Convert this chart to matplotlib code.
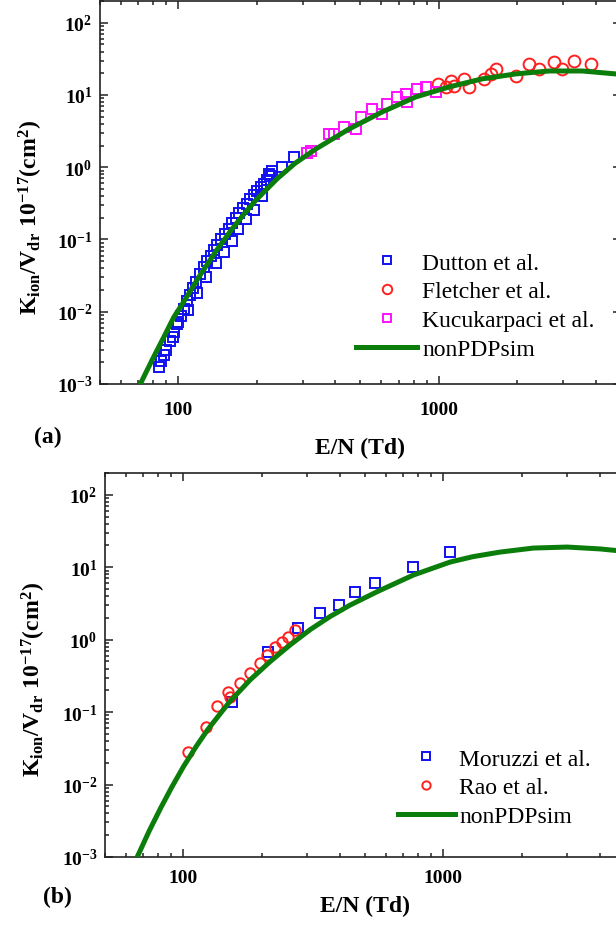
import matplotlib
matplotlib.use('Agg')
import matplotlib.pyplot as plt
from matplotlib.ticker import LogLocator, NullFormatter, FixedLocator, FixedFormatter

plt.rcParams['font.family'] = ['Liberation Serif', 'DejaVu Serif']
plt.rcParams['mathtext.fontset'] = 'custom'
plt.rcParams['mathtext.rm'] = 'Liberation Serif:bold'
plt.rcParams['mathtext.bf'] = 'Liberation Serif:bold'
plt.rcParams['mathtext.it'] = 'Liberation Serif:bold'

# ---------------- data: panel (a) ----------------
sim_a_E = [71.4, 80, 88, 96, 105, 120, 140, 160, 180, 200, 240, 280, 336, 451, 604, 815, 1092, 1463, 1977, 2650, 3548, 4750, 5000]
sim_a_K = [1e-3, 2.3e-3, 4.5e-3, 8.4e-3, 0.0139, 0.0305, 0.0706, 0.137, 0.233, 0.362, 0.70, 1.13, 1.78, 3.37, 5.8, 9.4, 12.9, 16.7, 19.6, 21.5, 21.5, 19.6, 19.2]

dutton_E = [84, 86, 88, 90, 93, 96, 99, 102, 105, 108, 111, 114, 117, 121, 125, 129, 133, 137, 141, 146,
            151, 156, 161, 166, 171, 177, 183, 189, 195, 201, 207, 213, 219, 224, 228, 249, 277,
            95, 100, 109, 118, 128, 139, 150, 160, 170, 182, 195, 210, 222]
dutton_K = [0.0017, 0.0021, 0.0025, 0.0030, 0.0040, 0.0052, 0.0068, 0.0088, 0.011, 0.014, 0.017, 0.021,
            0.026, 0.033, 0.041, 0.050, 0.060, 0.072, 0.085, 0.10, 0.12, 0.14, 0.17, 0.20, 0.23, 0.27,
            0.31, 0.36, 0.41, 0.47, 0.53, 0.59, 0.66, 0.75, 0.9, 1.0, 1.38,
            0.0045, 0.0071, 0.0107, 0.018, 0.030, 0.048, 0.068, 0.095, 0.138, 0.19, 0.26, 0.40, 0.8]

kucuk_E = [312, 322, 378, 394, 431, 479, 501, 553, 604, 631, 689, 745, 752, 823, 892, 974]
kucuk_K = [1.6, 1.67, 2.9, 2.9, 3.6, 3.4, 4.9, 6.4, 5.4, 7.5, 9.4, 10.3, 8.0, 12.1, 12.9, 11.0]

fletcher_E = [989, 1063, 1110, 1143, 1250, 1300, 1492, 1585, 1655, 1977, 2220, 2430, 2770, 2960, 3300, 3850]
fletcher_K = [14.2, 12.9, 15.6, 13.3, 16.7, 12.9, 16.7, 19.6, 23.0, 18.4, 27.0, 23.0, 28.7, 23.0, 29.6, 27.0]

# ---------------- data: panel (b) ----------------
sim_b_E = [66.5, 74, 82, 90, 100, 112, 124, 151, 181, 216, 258, 308, 368, 438, 557, 767, 1063, 1300, 1655, 2220, 2995, 4010, 4640, 5000]
sim_b_K = [0.001, 0.0023, 0.0048, 0.009, 0.0175, 0.0334, 0.057, 0.14, 0.28, 0.50, 0.85, 1.38, 2.1, 3.0, 4.6, 7.8, 11.8, 14.0, 16.2, 18.4, 19.0, 17.9, 17.0, 16.5]

moruzzi_E = [154, 212, 277, 336, 397, 458, 548, 767, 1063]
moruzzi_K = [0.14, 0.68, 1.46, 2.35, 3.05, 4.6, 6.1, 10.1, 16.3]

rao_E = [104.5, 122, 135, 149, 151, 166, 181, 198, 210, 226, 240, 253, 270]
rao_K = [0.0279, 0.063, 0.12, 0.19, 0.164, 0.25, 0.35, 0.48, 0.62, 0.8, 0.94, 1.1, 1.37]

ytick_vals = [1e-3, 1e-2, 1e-1, 1e0, 1e1, 1e2]
ytick_labels = [r'$\mathbf{10^{-3}}$', r'$\mathbf{10^{-2}}$', r'$\mathbf{10^{-1}}$',
                r'$\mathbf{10^{0}}$', r'$\mathbf{10^{1}}$', r'$\mathbf{10^{2}}$']
xtick_vals = [100, 1000]
xtick_labels = ['100', '1000']

GREEN = '#0b7d0b'
BLUE = '#1010f0'
RED = '#ff2020'
MAG = '#ff10ff'

fig = plt.figure(figsize=(6.16, 9.28), dpi=100)
W, H = 616.0, 928.0


def make_ax(l, t, r, b):
    return fig.add_axes([l / W, 1 - b / H, (r - l) / W, (b - t) / H])


def style(ax, xpad):
    ax.set_xscale('log')
    ax.set_yscale('log')
    ax.set_xlim(50, 5000)
    ax.set_ylim(1e-3, 200)
    ax.yaxis.set_major_locator(FixedLocator(ytick_vals))
    ax.yaxis.set_major_formatter(FixedFormatter(ytick_labels))
    ax.yaxis.set_minor_locator(LogLocator(base=10, subs=range(2, 10), numticks=20))
    ax.yaxis.set_minor_formatter(NullFormatter())
    ax.xaxis.set_major_locator(FixedLocator(xtick_vals))
    ax.xaxis.set_major_formatter(FixedFormatter(xtick_labels))
    ax.xaxis.set_minor_locator(LogLocator(base=10, subs=range(2, 10), numticks=20))
    ax.xaxis.set_minor_formatter(NullFormatter())
    ax.tick_params(which='both', direction='in', top=True, right=True, width=1.1, color='#222222')
    ax.tick_params(which='major', length=6, labelsize=14)
    ax.tick_params(axis='y', which='major', pad=5.5)
    ax.tick_params(axis='x', which='major', pad=xpad)
    ax.tick_params(which='minor', length=3)
    for lab in ax.get_xticklabels():
        lab.set_fontweight('bold')
    for s in ax.spines.values():
        s.set_linewidth(1.2)
        s.set_color('#222222')


ylab = r'$\mathbf{K_{ion}/V_{dr}\ 10^{-17}(cm^{2})}$'

# ---- panel (a)
axa = make_ax(100, 2, 621, 385)
style(axa, 12.5)
axa.plot(dutton_E, dutton_K, ls='none', marker='s', ms=7.5, mfc='none', mec=BLUE, mew=1.4, label='Dutton et al.')
axa.plot(fletcher_E, fletcher_K, ls='none', marker='o', ms=8.5, mfc='none', mec=RED, mew=1.4, label='Fletcher et al.')
axa.plot(kucuk_E, kucuk_K, ls='none', marker='s', ms=7.5, mfc='none', mec=MAG, mew=1.4, label='Kucukarpaci et al.')
axa.plot(sim_a_E, sim_a_K, color=GREEN, lw=3.6, label='nonPDPsim', zorder=5)
axa.set_xlabel('E/N (Td)', fontsize=17, fontweight='bold')
axa.xaxis.set_label_coords(0.499, -0.138)
axa.set_ylabel(ylab, fontsize=17)
axa.yaxis.set_label_coords(-0.105, 0.436)
axa.legend(loc='upper left', bbox_to_anchor=(356 / W, 1 - 253 / H), bbox_transform=fig.transFigure,
           frameon=False, fontsize=17, borderpad=0, borderaxespad=0, handlelength=2.6,
           handletextpad=0.2, labelspacing=0.31, numpoints=1, markerscale=0.8)
fig.text(48 / W, 1 - 437 / H, '(a)', fontsize=17, fontweight='bold', ha='center', va='center')

# ---- panel (b)
axb = make_ax(105, 474, 625, 858)
style(axb, 8.5)
axb.plot(moruzzi_E, moruzzi_K, ls='none', marker='s', ms=7, mfc='none', mec=BLUE, mew=1.4, label='Moruzzi et al.')
axb.plot(rao_E, rao_K, ls='none', marker='o', ms=7.5, mfc='none', mec=RED, mew=1.4, label='Rao et al.')
axb.plot(sim_b_E, sim_b_K, color=GREEN, lw=3.6, label='nonPDPsim', zorder=5)
axb.set_xlabel('E/N (Td)', fontsize=17, fontweight='bold')
axb.xaxis.set_label_coords(0.5, -0.099)
axb.set_ylabel(ylab, fontsize=17)
axb.yaxis.set_label_coords(-0.109, 0.464)
axb.legend(loc='upper left', bbox_to_anchor=(398 / W, 1 - 749 / H), bbox_transform=fig.transFigure,
           frameon=False, fontsize=17, borderpad=0, borderaxespad=0, handlelength=2.4,
           handletextpad=0.2, labelspacing=0.31, numpoints=1, markerscale=0.8)
fig.text(57 / W, 1 - 897 / H, '(b)', fontsize=17, fontweight='bold', ha='center', va='center')

fig.savefig('out.png', dpi=100)
